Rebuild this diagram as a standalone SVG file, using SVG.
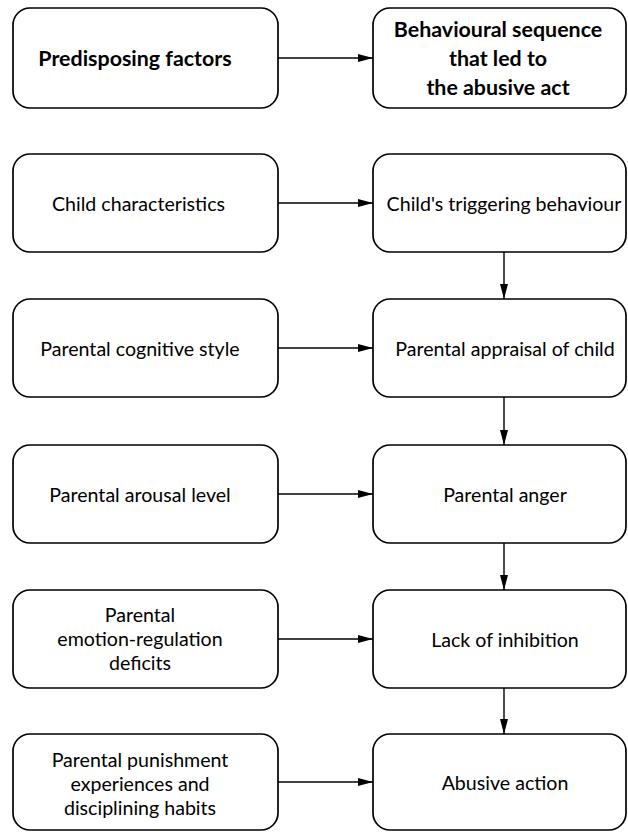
<svg xmlns="http://www.w3.org/2000/svg" width="628" height="832" viewBox="0 0 628 832">
<defs>
<style>
.box{fill:#fff;stroke:#000;stroke-width:1.7}
.t{font-family:Lato,"Open Sans","Liberation Sans",sans-serif;font-size:19.6px;fill:#000;text-anchor:middle;dominant-baseline:central}
.b{font-weight:bold;font-size:21.4px}
.c{stroke:#000;stroke-width:1.4;fill:none;marker-end:url(#ah)}
</style>
<marker id="ah" viewBox="0 0 15 8" refX="15" refY="4" markerWidth="15" markerHeight="8" markerUnits="userSpaceOnUse" orient="auto">
<path d="M0,0 L15,4 L0,8 Z" fill="#000"/>
</marker>
</defs>
<rect width="628" height="832" fill="#fff"/>
<g id="connectors">
<line class="c" x1="278" y1="58" x2="373" y2="58"/>
<line class="c" x1="278" y1="203" x2="373" y2="203"/>
<line class="c" x1="278" y1="348" x2="373" y2="348"/>
<line class="c" x1="278" y1="494" x2="373" y2="494"/>
<line class="c" x1="278" y1="639" x2="373" y2="639"/>
<line class="c" x1="278" y1="782" x2="373" y2="782"/>
<line class="c" x1="504" y1="252" x2="504" y2="299"/>
<line class="c" x1="504" y1="397" x2="504" y2="445"/>
<line class="c" x1="504" y1="543" x2="504" y2="590"/>
<line class="c" x1="504" y1="688" x2="504" y2="734"/>
</g>
<g id="predisposing">
<rect class="box" x="13" y="8" width="265" height="100" rx="17"/>
<text class="t b" x="135" y="58">Predisposing factors</text>
</g>
<g id="sequence">
<rect class="box" x="373" y="8" width="253" height="100" rx="17"/>
<text class="t b" x="498" y="29">Behavioural sequence</text>
<text class="t b" x="498" y="58">that led to</text>
<text class="t b" x="498" y="87">the abusive act</text>
</g>
<g id="child-char">
<rect class="box" x="13" y="154" width="265" height="98" rx="17"/>
<text class="t" x="138.5" y="203">Child characteristics</text>
</g>
<g id="child-trig">
<rect class="box" x="373" y="154" width="253" height="98" rx="17"/>
<text class="t" x="504" y="203">Child's triggering behaviour</text>
</g>
<g id="cog-style">
<rect class="box" x="13" y="299" width="265" height="98" rx="17"/>
<text class="t" x="140" y="348">Parental cognitive style</text>
</g>
<g id="appraisal">
<rect class="box" x="373" y="299" width="253" height="98" rx="17"/>
<text class="t" x="505" y="348">Parental appraisal of child</text>
</g>
<g id="arousal">
<rect class="box" x="13" y="445" width="265" height="98" rx="17"/>
<text class="t" x="140" y="494">Parental arousal level</text>
</g>
<g id="anger">
<rect class="box" x="373" y="445" width="253" height="98" rx="17"/>
<text class="t" x="505" y="494">Parental anger</text>
</g>
<g id="emotion-reg">
<rect class="box" x="13" y="590" width="265" height="98" rx="17"/>
<text class="t" x="140" y="614">Parental</text>
<text class="t" x="140" y="638">emotion-regulation</text>
<text class="t" x="140" y="662">deficits</text>
</g>
<g id="inhibition">
<rect class="box" x="373" y="590" width="253" height="98" rx="17"/>
<text class="t" x="505" y="639">Lack of inhibition</text>
</g>
<g id="punishment">
<rect class="box" x="13" y="734" width="265" height="96" rx="17"/>
<text class="t" x="140" y="759">Parental punishment</text>
<text class="t" x="140" y="783">experiences and</text>
<text class="t" x="140" y="807">disciplining habits</text>
</g>
<g id="abusive">
<rect class="box" x="373" y="734" width="253" height="96" rx="17"/>
<text class="t" x="505" y="782">Abusive action</text>
</g>
</svg>
